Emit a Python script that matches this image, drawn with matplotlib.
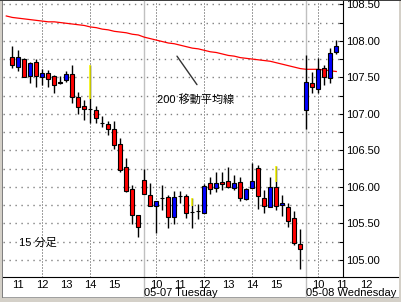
import numpy as np
import matplotlib
matplotlib.use("Agg")
import matplotlib.pyplot as plt
from matplotlib.patches import Rectangle
from matplotlib.lines import Line2D

plt.rcParams['font.family'] = ['Liberation Sans', 'Noto Sans CJK JP', 'DejaVu Sans']

# ---------------- данные: 15-минутные свечи ----------------
day_labels = ["", "05-07 Tuesday", "05-08 Wednesday"]
day_start = ["10:45", "09:30", "09:30"]
day_bars = [22, 27, 6]
day_hours = [[11, 12, 13, 14, 15], [10, 11, 12, 13, 14, 15], [10, 11, 12]]
grid_hours = [10, 12, 14]

opens = [107.78, 107.64, 107.75, 107.52, 107.71, 107.51, 107.56, 107.52, 107.44, 107.46, 107.55,
         107.23, 107.11, 107.07, 107.05, 106.87, 106.86, 106.79, 106.59, 106.27, 105.97, 105.61,
         106.09, 105.89, 105.74, 105.85, 105.86, 105.59, 105.87, 105.87, 105.66, 105.67, 105.64,
         106.05, 105.99, 106.07, 106.08, 105.99, 106.07, 105.83, 105.99, 106.26, 105.85, 105.72,
         106.00, 105.75, 105.72, 105.57, 105.22,
         107.05, 107.42, 107.34, 107.63, 107.49, 107.85]
highs = [107.93, 107.87, 107.76, 107.71, 107.75, 107.61, 107.60, 107.53, 107.52, 107.59, 107.67,
         107.30, 107.19, 107.67, 107.11, 106.97, 106.90, 106.90, 106.67, 106.40, 106.03, 105.61,
         106.24, 106.05, 105.81, 106.03, 105.89, 105.94, 105.94, 105.90, 105.85, 105.77, 106.04,
         106.14, 106.20, 106.20, 106.27, 106.16, 106.14, 105.98, 106.33, 106.30, 105.96, 106.14,
         106.29, 105.89, 105.78, 105.67, 105.42,
         107.81, 107.57, 107.77, 107.67, 107.90, 108.01]
lows = [107.63, 107.59, 107.50, 107.42, 107.37, 107.40, 107.37, 107.29, 107.41, 107.44, 107.15,
        107.00, 106.92, 106.87, 106.87, 106.82, 106.71, 106.52, 106.20, 105.93, 105.49, 105.31,
        105.90, 105.74, 105.37, 105.68, 105.44, 105.49, 105.78, 105.57, 105.44, 105.56, 105.64,
        105.90, 105.93, 105.96, 105.98, 105.96, 105.81, 105.82, 105.99, 105.70, 105.64, 105.72,
        105.68, 105.60, 105.45, 105.20, 104.87,
        106.79, 107.29, 107.29, 107.40, 107.42, 107.82]
closes = [107.67, 107.78, 107.51, 107.70, 107.52, 107.56, 107.48, 107.40, 107.42, 107.55, 107.23,
          107.09, 107.07, 107.07, 106.94, 106.87, 106.79, 106.57, 106.23, 105.94, 105.61, 105.45,
          105.90, 105.74, 105.81, 105.85, 105.59, 105.86, 105.87, 105.64, 105.66, 105.67, 106.01,
          105.97, 106.05, 106.04, 106.00, 106.05, 105.85, 105.97, 106.08, 105.87, 105.74, 106.00,
          105.74, 105.78, 105.53, 105.23, 105.15,
          107.44, 107.37, 107.61, 107.51, 107.83, 107.93]

# жёлтая часть верхней тени: номер свечи -> нижний край
yellow_wicks = {13: 107.20, 30: 105.74, 44: 106.07}

# 200 移動平均線, начиная со свечи -1
ma200 = [108.34, 108.32, 108.31, 108.30, 108.29, 108.28, 108.27, 108.26, 108.26, 108.25, 108.24,
         108.23, 108.22, 108.21, 108.19, 108.18, 108.16, 108.15, 108.13, 108.12, 108.11, 108.09,
         108.08, 108.05, 108.03, 108.01, 107.99, 107.97, 107.96, 107.94, 107.92, 107.90, 107.89,
         107.87, 107.85, 107.84, 107.82, 107.80, 107.79, 107.77, 107.76, 107.75, 107.74, 107.73,
         107.72, 107.70, 107.68, 107.66, 107.64, 107.62, 107.61, 107.61, 107.61, 107.60, 107.59,
         107.58]

W, H = 401, 302


def fx(px):
    return px / W


def fy(py):
    return 1 - py / H


def minutes(s):
    h, m = s.split(":")
    return int(h) * 60 + int(m)


fig = plt.figure(figsize=(W / 100, H / 100), dpi=100, facecolor='#d4d0c8')

# рамка окна
for (x0, y0, w, h, col) in [(fx(3), fy(297), fx(396), 296 / H, 'white'),
                            (fx(1.7), fy(298), fx(1.6), 298 / H, '#808080'),
                            (0, fy(1), 1, 1 / H, '#404040'),
                            (fx(3), fy(298), fx(396), 1 / H, '#a0a0a0')]:
    fig.patches.append(Rectangle((x0, y0), w, h, transform=fig.transFigure,
                                 facecolor=col, edgecolor='none', zorder=-5))

ax = fig.add_axes([fx(3), fy(277), fx(340), 276 / H])
ax.set_facecolor('white')
ax.set_xlim(-1.55, 55.12)
ax.set_ylim(104.767, 108.545)
ax.set_axisbelow(True)

for s in ['left', 'top', 'bottom']:
    ax.spines[s].set_visible(False)
ax.spines['right'].set_linewidth(0.8)
fig.add_artist(Line2D([fx(3), fx(398)], [fy(277), fy(277)], transform=fig.transFigure,
                      color='black', lw=0.8))

# ось цен
ax.yaxis.tick_right()
major = np.arange(105.0, 108.51, 0.5)
ax.set_yticks(major)
ax.set_yticklabels([f"{v:.2f}" for v in major])
ax.set_yticks(np.arange(105.25, 108.5, 0.5), minor=True)
ax.tick_params(axis='y', which='both', direction='in', length=3, width=0.8, pad=2, labelsize=8)
ax.set_xticks([])

# горизонтальная сетка (точки) по делениям оси
ax.yaxis.grid(True, which='both', color='#808080', linewidth=1.0,
              linestyle=(0, (1.0, 3.3)))

# дни, часы
y_hour = (277 - 288) / 276
y_date = (277 - 296.5) / 276
first = np.cumsum([0] + day_bars[:-1])
for d in range(len(day_bars)):
    s0 = first[d]
    m0 = minutes(day_start[d])
    if d > 0:
        ax.axvline(s0, ymin=(277 - 297) / 276, ymax=1, color='#c0c0c0', lw=1.0,
                   clip_on=False, zorder=1)
        ax.text(s0, y_date, day_labels[d], transform=ax.get_xaxis_transform(),
                ha='left', va='baseline', fontsize=8, clip_on=False)
    for h in day_hours[d]:
        pos = s0 + (h * 60 - m0) / 15
        ax.text(pos, y_hour, str(h), transform=ax.get_xaxis_transform(),
                ha='center', va='baseline', fontsize=8, clip_on=False)
        if h in grid_hours:
            ax.axvline(pos, color='#a0a0a0', lw=0.72, ls=(0, (1.4, 1.6)), zorder=0,
                       antialiased=False)

# скользящая средняя
ax.plot(np.arange(len(ma200)) - 1, ma200, color='#ff0000', lw=0.9, zorder=2)

# свечи
bw = 0.7
for i in range(len(opens)):
    o, hi, lo, c = opens[i], highs[i], lows[i], closes[i]
    ax.plot([i, i], [lo, hi], color='black', lw=1.0, zorder=3, solid_capstyle='butt')
    if i in yellow_wicks:
        ax.plot([i, i], [yellow_wicks[i], hi], color='#ffff00', lw=1.1, zorder=3.5,
                solid_capstyle='butt')
    color = '#0000ff' if c > o else '#ff0000'
    ax.add_patch(Rectangle((i - bw / 2, min(o, c)), bw, abs(c - o), facecolor=color,
                           edgecolor='black', lw=0.8, zorder=4))

# подписи
ax.text(1.1, 105.24, "15 分足", fontsize=8, ha='left', va='center')
ax.text(24.1, 107.19, "200 移動平均線", fontsize=8, ha='left', va='center')
ax.annotate('', xy=(27.45, 107.79), xytext=(30.78, 107.40),
            arrowprops=dict(arrowstyle='-', color='#333333', lw=1.0, shrinkA=0, shrinkB=0))

fig.savefig("out.png", dpi=100, facecolor=fig.get_facecolor())
